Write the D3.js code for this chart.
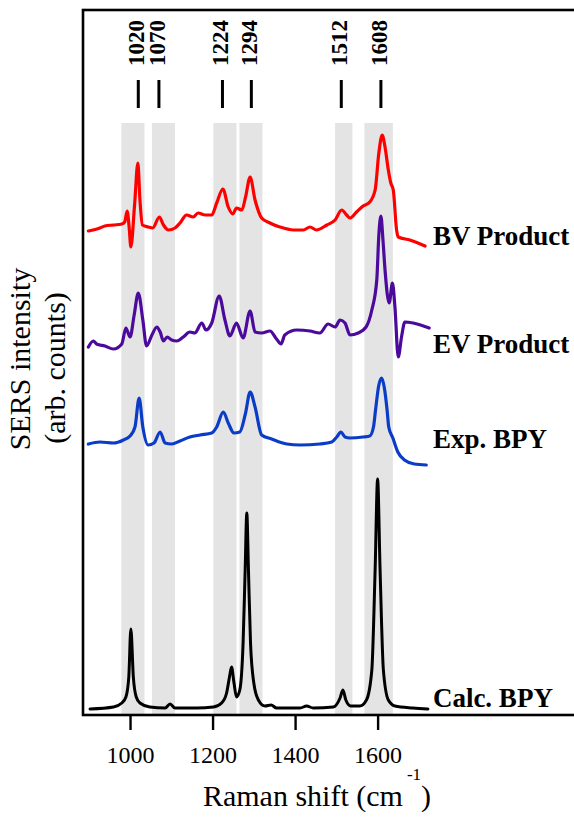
<!DOCTYPE html>
<html>
<head>
<meta charset="utf-8">
<script src="https://cdn.jsdelivr.net/npm/d3@7/dist/d3.min.js"></script>
<style>
  html, body { margin: 0; padding: 0; background: #fff; }
  svg { display: block; font-family: "Liberation Serif", "Times New Roman", serif; }
</style>
</head>
<body>
<svg id="chart" width="574" height="818"></svg>
<script>
// Raman shift (cm^-1) and stacked SERS intensity (arb. counts) for each spectrum
const bvShift = [899,927,939,960,980,987,993,998,1002,1011,1019,1024,1030,1044,1055,1071,1081,1093,1109,1121,1137,1153,1165,1182,1198,1210,1225,1238,1249,1258,1271,1280,1291,1303,1319,1339,1363,1396,1420,1436,1452,1477,1497,1513,1525,1533,1549,1565,1581,1594,1603,1611,1618,1626,1632,1638,1646,1650,1678,1715];
const bvIntensity = [484,487,489,490,491,493,504,487,468,510,552,515,490,488,487,498,490,485,487,492,500,498,502,500,500,512,526,508,501,507,505,518,538,515,497,492,488,485,485,488,485,490,495,505,500,497,503,509,513,525,562,580,568,545,532,525,485,478,475,469];

const evShift = [899,911,919,939,960,980,990,1000,1010,1020,1031,1040,1053,1065,1073,1081,1090,1101,1113,1129,1145,1157,1174,1184,1198,1216,1230,1242,1258,1274,1291,1303,1319,1339,1355,1366,1375,1404,1436,1460,1480,1497,1509,1521,1533,1553,1572,1586,1598,1603,1608,1613,1618,1628,1636,1642,1650,1658,1666,1686,1725];
const evIntensity = [368,374,371,369,366,371,387,378,400,422,395,369,380,388,383,374,378,375,374,378,383,382,392,385,392,419,395,379,392,377,404,383,382,384,376,371,380,385,384,382,391,388,395,392,380,382,388,405,435,480,499,475,445,412,432,408,358,378,393,392,387];

const expShift = [899,927,960,984,1000,1012,1022,1031,1044,1058,1073,1085,1101,1121,1145,1170,1198,1210,1226,1238,1252,1266,1280,1291,1303,1319,1343,1380,1412,1460,1489,1501,1511,1521,1533,1565,1581,1590,1595,1603,1610,1616,1623,1627,1637,1649,1665,1689,1718];
const expIntensity = [271,273,272,275,279,288,317,288,270,272,283,272,271,274,278,280,282,288,303,292,282,283,302,323,308,280,276,271,270,271,273,278,283,278,277,278,279,288,305,330,337,328,305,288,277,263,255,251,250];

const calcShift = [903,960,980,990,997,1002,1008,1015,1024,1048,1085,1097,1109,1162,1202,1222,1234,1241,1246,1252,1258,1266,1274,1279,1283,1287,1292,1300,1311,1327,1342,1355,1412,1428,1444,1493,1509,1516,1523,1535,1557,1573,1586,1594,1600,1606,1614,1626,1642,1686,1722];
const calcIntensity = [6,8,12,18,38,86,38,18,12,8,7,11,7,7,8,12,22,38,48,32,18,25,72,145,202,145,72,32,15,9,10,7,7,9,7,8,17,25,15,9,9,15,45,145,236,145,45,15,9,7,6];

const seriesNames = ["BV Product", "EV Product", "Exp. BPY", "Calc. BPY"];
const seriesColors = ["#ff0000", "#4b0a9c", "#0a3cc8", "#000000"];
// intensity level at which each spectrum's name is written
const labelLevels = [470, 362, 267, 8];

// highlighted vibrational bands (cm^-1) and annotated peak positions
const bands = [[979,1035],[1053,1109],[1202,1258],[1265,1321],[1497,1539],[1568,1637]];
const peakLabels = [1020, 1070, 1224, 1294, 1512, 1608];
const xTicks = [1000, 1200, 1400, 1600];

const series = [
  { shift: bvShift, intensity: bvIntensity },
  { shift: evShift, intensity: evIntensity },
  { shift: expShift, intensity: expIntensity },
  { shift: calcShift, intensity: calcIntensity }
];

const svg = d3.select("#chart");
const x = d3.scaleLinear().domain([886, 2139]).range([83, 600]);
const y = d3.scaleLinear().domain([0, 705]).range([715, 10]);

const bandTop = 592;

// shaded bands
svg.append("g").selectAll("rect").data(bands).join("rect")
  .attr("x", d => x(d[0]))
  .attr("width", d => x(d[1]) - x(d[0]))
  .attr("y", y(bandTop))
  .attr("height", y(0) - y(bandTop))
  .attr("fill", "#e4e4e4");

// spectra
const line = d3.line().curve(d3.curveMonotoneX);
series.forEach((s, i) => {
  const pts = s.shift.map((v, j) => [x(v), y(s.intensity[j])]);
  svg.append("path")
    .attr("d", line(pts))
    .attr("fill", "none")
    .attr("stroke", seriesColors[i])
    .attr("stroke-width", i === 3 ? 3 : 3.2)
    .attr("stroke-linejoin", "round")
    .attr("stroke-linecap", "round");
});

// spectrum names
svg.append("g").selectAll("text").data(seriesNames).join("text")
  .attr("x", x(1734))
  .attr("y", (d, i) => y(labelLevels[i]))
  .attr("font-size", 27)
  .attr("font-weight", "bold")
  .attr("fill", "#000")
  .text(d => d);

// peak position markers
const markers = svg.append("g");
markers.selectAll("line").data(peakLabels).join("line")
  .attr("x1", d => x(d)).attr("x2", d => x(d))
  .attr("y1", y(607)).attr("y2", y(635))
  .attr("stroke", "#000").attr("stroke-width", 3);
markers.selectAll("text").data(peakLabels).join("text")
  .attr("transform", d => `translate(${x(d) + 6},${y(695)}) rotate(-90)`)
  .attr("text-anchor", "end")
  .attr("font-size", 23)
  .attr("font-weight", "bold")
  .text(d => d);

// frame
svg.append("rect")
  .attr("x", x(886)).attr("y", y(705))
  .attr("width", x(2139) - x(886)).attr("height", y(0) - y(705))
  .attr("fill", "none").attr("stroke", "#000").attr("stroke-width", 2.6);

// bottom axis
const axis = svg.append("g")
  .attr("transform", `translate(0,${y(0)})`)
  .call(d3.axisBottom(x).tickValues(xTicks).tickSize(15).tickFormat(d3.format("d")));
axis.select(".domain").remove();
axis.selectAll(".tick line").attr("stroke", "#000").attr("stroke-width", 2.4);
axis.selectAll(".tick text")
  .attr("y", 48).attr("dy", 0)
  .attr("font-family", "'Liberation Serif', 'Times New Roman', serif")
  .attr("font-size", 24).attr("fill", "#000");

// axis titles
const xt = svg.append("text")
  .attr("x", 317).attr("y", 806)
  .attr("text-anchor", "middle")
  .attr("font-size", 30);
xt.append("tspan").text("Raman shift (cm");
xt.append("tspan").attr("dy", -26).attr("dx", 4).attr("font-size", 17).text("-1");
xt.append("tspan").attr("dy", 26).text(")");

svg.append("text")
  .attr("transform", "translate(30,359) rotate(-90)")
  .attr("text-anchor", "middle")
  .attr("font-size", 30)
  .text("SERS intensity");
svg.append("text")
  .attr("transform", "translate(65,368) rotate(-90)")
  .attr("text-anchor", "middle")
  .attr("font-size", 30)
  .text("(arb. counts)");
</script>
</body>
</html>
